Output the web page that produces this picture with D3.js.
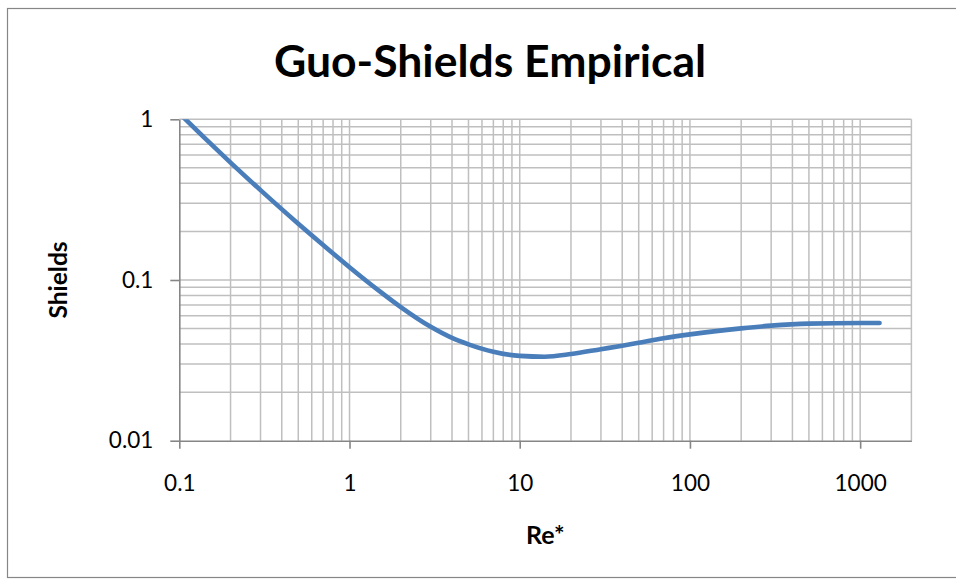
<!DOCTYPE html>
<html>
<head>
<meta charset="utf-8">
<script src="https://cdn.jsdelivr.net/npm/d3@7"></script>
<style>
  html, body { margin: 0; padding: 0; background: #fff; }
  svg { display: block; }
  text { font-family: Lato, "Open Sans", "DejaVu Sans", sans-serif; fill: #000; }
</style>
</head>
<body>
<svg id="chart" width="956" height="580"></svg>
<script>
// Guo-Shields empirical curve: critical Shields parameter against particle Reynolds number
const reStar = [0.1, 0.15, 0.2, 0.3, 0.5, 0.7, 1, 1.5, 2, 3, 4, 5, 7, 10, 14, 20, 30, 40, 50, 70, 100, 200, 300, 500, 1000, 1300];
const shields = [1.09, 0.718, 0.538, 0.3625, 0.224, 0.1651, 0.1201, 0.0852, 0.0678, 0.0511, 0.0436, 0.0398, 0.0358, 0.0337, 0.0333, 0.0346, 0.0371, 0.039, 0.0407, 0.0434, 0.0459, 0.050, 0.052, 0.0535, 0.054, 0.054];

const xMajor = [0.1, 1, 10, 100, 1000];
const xMajorLabels = ["0.1", "1", "10", "100", "1000"];
const yMajor = [0.01, 0.1, 1];
const yMajorLabels = ["0.01", "0.1", "1"];

const xDomain = [0.1, 2000];
const yDomain = [0.01, 1];

const chartTitle = "Guo-Shields Empirical";
const xTitle = "Re*";
const yTitle = "Shields";

const svg = d3.select("#chart");
const plot = { left: 179.3, right: 911.4, top: 119.3, bottom: 440.7 };

const x = d3.scaleLog().domain(xDomain).range([plot.left, plot.right]);
const y = d3.scaleLog().domain(yDomain).range([plot.bottom, plot.top]);

// outer chart frame
svg.append("rect")
  .attr("x", 7.5).attr("y", 8.5)
  .attr("width", 1000).attr("height", 569)
  .attr("fill", "#fff")
  .attr("stroke", "#868686").attr("stroke-width", 1.2);

// title
svg.append("text")
  .attr("x", 490).attr("y", 77)
  .attr("text-anchor", "middle")
  .attr("font-size", 44.5).attr("font-weight", 700)
  .text(chartTitle);

// gridlines (major and minor share one style)
const grid = svg.append("g").attr("stroke", "#bfbfbf").attr("stroke-width", 1.5);
const xGrid = x.ticks().filter(v => v > xDomain[0] * 1.0001);
grid.selectAll("line.xg").data(xGrid).join("line")
  .attr("class", "xg")
  .attr("x1", d => x(d)).attr("x2", d => x(d))
  .attr("y1", plot.top).attr("y2", plot.bottom);
const yGrid = y.ticks().filter(v => v > yDomain[0] * 1.0001);
grid.selectAll("line.yg").data(yGrid).join("line")
  .attr("class", "yg")
  .attr("x1", plot.left).attr("x2", plot.right)
  .attr("y1", d => y(d)).attr("y2", d => y(d));

// axes
const xAxis = d3.axisBottom(x)
  .tickValues(xMajor)
  .tickFormat((d, i) => xMajorLabels[i])
  .tickSizeInner(8).tickSizeOuter(0).tickPadding(26);
const gx = svg.append("g")
  .attr("transform", `translate(0,${plot.bottom})`)
  .call(xAxis);

const yAxis = d3.axisLeft(y)
  .tickValues(yMajor)
  .tickFormat((d, i) => yMajorLabels[i])
  .tickSizeInner(9).tickSizeOuter(0).tickPadding(17);
const gy = svg.append("g")
  .attr("transform", `translate(${plot.left},0)`)
  .call(yAxis);

[gx, gy].forEach(g => {
  g.select(".domain").attr("stroke", "#868686").attr("stroke-width", 1.6);
  g.selectAll(".tick line").attr("stroke", "#868686").attr("stroke-width", 1.6);
  g.selectAll(".tick text")
    .attr("font-size", 22.5)
    .attr("font-family", "Lato, 'Open Sans', sans-serif")
    .attr("fill", "#000");
});

// axis titles
svg.append("text")
  .attr("x", (plot.left + plot.right) / 2).attr("y", 544)
  .attr("text-anchor", "middle")
  .attr("font-size", 25).attr("font-weight", 700)
  .text(xTitle);

svg.append("text")
  .attr("transform", `translate(67,280) rotate(-90)`)
  .attr("text-anchor", "middle")
  .attr("font-size", 24.5).attr("font-weight", 700)
  .text(yTitle);

// curve, clipped to the plot area
svg.append("clipPath").attr("id", "plotClip")
  .append("rect")
  .attr("x", plot.left).attr("y", plot.top)
  .attr("width", plot.right - plot.left).attr("height", plot.bottom - plot.top);

const points = reStar.map((r, i) => [r, shields[i]]);
const line = d3.line()
  .x(d => x(d[0]))
  .y(d => y(d[1]))
  .curve(d3.curveMonotoneX);

svg.append("path")
  .datum(points)
  .attr("clip-path", "url(#plotClip)")
  .attr("d", line)
  .attr("fill", "none")
  .attr("stroke", "#4a7ebb")
  .attr("stroke-width", 4.6)
  .attr("stroke-linecap", "round")
  .attr("stroke-linejoin", "round");
</script>
</body>
</html>
